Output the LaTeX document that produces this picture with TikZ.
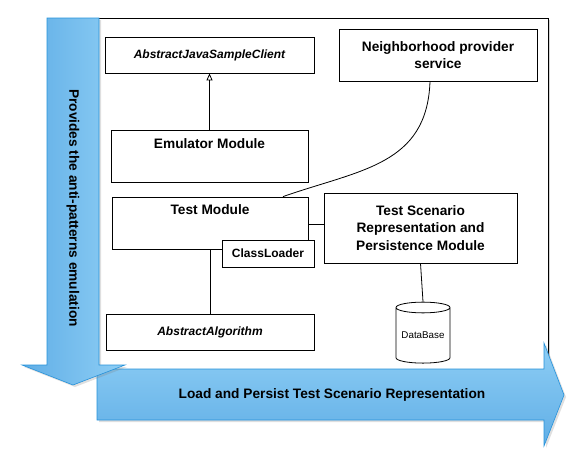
\documentclass[tikz,border=0pt]{standalone}
\usepackage{fontspec}
\setmainfont{Liberation Sans}
\usetikzlibrary{arrows.meta,shapes.geometric,shadows}
\definecolor{barlight}{RGB}{142,206,245}
\definecolor{bardark}{RGB}{96,174,230}
\definecolor{barline}{RGB}{38,146,218}
\begin{document}
\begin{tikzpicture}[x=1pt, y=-1pt, line width=0.8pt,
    box node/.style={rectangle,draw,fill=white,inner sep=0pt},
    title/.style={font=\bfseries\fontsize{13.7}{17.5}\selectfont, align=center},
    class/.style={font=\bfseries\itshape\fontsize{12}{14}\selectfont},
    band/.style={draw=barline, line width=0.6pt,
                 drop shadow={opacity=0.25,shadow xshift=2pt,shadow yshift=-2pt}}]

  \useasboundingbox (0,0) rectangle (585,469);

  % frame
  \draw[fill=white, drop shadow={opacity=0.35,shadow xshift=2pt,shadow yshift=-2pt}]
    (47,18) rectangle (548,369);

  % the two blue arrows
  \path[band, top color=barlight, bottom color=bardark]
    (97,369) -- (544,369) -- (544,343) -- (564,395) -- (544,446) -- (544,420) -- (97,420) -- cycle;
  \path[band, left color=bardark, right color=barlight]
    (47,18) -- (99,18) -- (99,365) -- (125,365) -- (73,385) -- (22,365) -- (47,365) -- cycle;

  \node[title, rotate=-90] (emulation) at (73,208) {Provides the anti-patterns emulation};
  \node[title] (persist) at (332,395) {Load and Persist Test Scenario Representation};

  % boxes
  \node[box node, class, minimum width=209pt, minimum height=36pt] (ajsc) at (209.5,55) {AbstractJavaSampleClient};
  \node[box node, minimum width=197pt, minimum height=52pt,
        label={[title,anchor=north,yshift=-5pt]north:Emulator Module}] (emu) at (209.5,156) {};
  \node[box node, minimum width=196pt, minimum height=52pt,
        label={[title,anchor=north,yshift=-4.5pt]north:Test Module}] (test) at (210,223) {};
  \node[box node, font=\bfseries\fontsize{12}{14}\selectfont,
        minimum width=92pt, minimum height=27pt] (cl) at (268,253.5) {ClassLoader};
  \node[box node, class, minimum width=208pt, minimum height=36pt] (algo) at (210,332) {AbstractAlgorithm};
  \node[box node, title, minimum width=198pt, minimum height=52pt] (nps) at (438,55) {Neighborhood provider\\service};
  \node[box node, title, minimum width=193pt, minimum height=70pt] (tsr) at (420.5,228)
    {Test Scenario\\Representation and\\Persistence Module};
  \node[cylinder, shape border rotate=90, aspect=0.25, draw, fill=white,
        minimum width=54pt, minimum height=61pt, inner sep=0pt,
        font=\fontsize{9.8}{12}\selectfont] (db) at (423,335.5) {DataBase};

  % connectors
  \draw[-{Triangle[open,width=6pt,length=7pt]}] (emu) -- (ajsc);
  \draw (test.south) -- (algo.north);
  \draw (test.east |- 0,224) -- (tsr.west |- 0,224);
  \draw (tsr.south) -- (db.north);
  \draw ([xshift=-8pt]nps.south) .. controls +(-3,84) and +(77,-27) .. ([xshift=73pt]test.north);
\end{tikzpicture}
\end{document}
